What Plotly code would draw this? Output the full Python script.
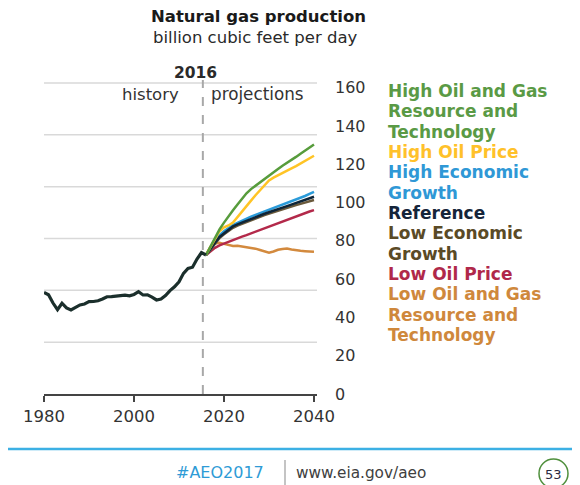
import plotly.graph_objects as go

# ---------------- data ----------------
hist_years = list(range(1980, 2017))
hist_values = [53.0, 51.8, 47.5, 44.0, 47.4, 45.0, 43.9, 45.2, 46.5, 47.0,
               48.2, 48.3, 48.7, 49.6, 50.8, 50.9, 51.3, 51.4, 51.6, 51.3,
               52.0, 53.4, 51.7, 51.8, 50.6, 49.1, 49.6, 51.4, 54.0, 56.0,
               58.6, 63.0, 65.6, 66.2, 70.5, 73.8, 72.6]

proj_years = list(range(2016, 2041))
high_resource = [72.6, 77.0, 81.5, 86.0, 89.5, 93.0, 96.0, 99.0, 102.0, 104.8,
                 107.0, 108.8, 110.5, 112.5, 114.3, 115.8, 117.5, 119.2, 120.6, 122.2,
                 123.8, 125.5, 127.2, 128.8, 130.3]
high_oil_price = [72.6, 76.5, 81.0, 85.0, 87.0, 88.0, 89.5, 92.5, 95.5, 98.3,
                  101.0, 103.8, 106.5, 109.0, 111.5, 113.0, 114.3, 115.5, 116.5, 117.8,
                  119.0, 120.3, 121.6, 123.0, 124.4]
high_econ = [72.6, 76.0, 79.5, 82.8, 85.0, 86.8, 88.2, 89.4, 90.6, 91.6,
             92.6, 93.5, 94.4, 95.2, 96.1, 96.9, 97.8, 98.7, 99.5, 100.4,
             101.4, 102.4, 103.4, 104.5, 105.6]
reference = [72.6, 75.5, 79.0, 82.0, 84.0, 86.0, 87.5, 88.6, 89.6, 90.5,
             91.4, 92.3, 93.2, 94.1, 95.0, 95.8, 96.5, 97.3, 98.1, 98.9,
             99.7, 100.5, 101.3, 102.2, 103.0]
low_econ = [72.6, 75.2, 78.5, 81.4, 83.4, 85.3, 86.8, 87.9, 88.9, 89.8,
            90.7, 91.6, 92.5, 93.4, 94.2, 95.0, 95.7, 96.4, 97.2, 97.9,
            98.6, 99.3, 100.0, 100.7, 101.3]
low_oil_price = [72.6, 74.5, 76.3, 77.6, 78.6, 79.6, 80.5, 81.3, 82.2, 83.0,
                 83.9, 84.8, 85.6, 86.5, 87.3, 88.1, 89.2, 89.9, 90.8, 91.8,
                 93.0, 93.8, 94.6, 95.3, 96.0]
low_resource = [72.6, 76.8, 78.6, 79.0, 78.4, 77.8, 77.3, 77.4, 77.0, 76.9,
                76.5, 75.9, 75.2, 74.5, 73.8, 74.4, 75.3, 75.7, 76.0, 75.5,
                75.0, 74.8, 74.6, 74.5, 74.3]

scenario_names = ["High Oil and Gas Resource and Technology", "High Oil Price",
                  "High Economic Growth", "Reference", "Low Economic Growth",
                  "Low Oil Price", "Low Oil and Gas Resource and Technology"]
legend_lines = [["High Oil and Gas", "Resource and", "Technology"],
                ["High Oil Price"],
                ["High Economic", "Growth"],
                ["Reference"],
                ["Low Economic", "Growth"],
                ["Low Oil Price"],
                ["Low Oil and Gas", "Resource and", "Technology"]]
scenario_values = [high_resource, high_oil_price, high_econ, reference,
                   low_econ, low_oil_price, low_resource]

x_ticks = [1980, 2000, 2020, 2040]
y_ticks = [0, 20, 40, 60, 80, 100, 120, 140, 160]
divider_year = 2015.3

# ---------------- style ----------------
OFF = 8                      # page body margin of the html page
W, H = 580 - OFF, 485 - OFF
FONT = "DejaVu Sans"
line_colors = ["#579c3c", "#ffc425", "#2b9bd9", "#0e2538", "#6a5a3c", "#b3294a", "#d38a3e"]
text_colors = ["#5a9a45", "#ffc12a", "#2f98d6", "#15253a", "#5a4a26", "#b0284a", "#cf883c"]
draw_order = [6, 5, 4, 2, 3, 1, 0]
n_grid = 6


def px(x):
    return (x - OFF) / W


def py(y):
    return (H - (y - OFF)) / H


fig = go.Figure()

for i in draw_order:
    fig.add_trace(go.Scatter(x=proj_years, y=scenario_values[i], mode="lines",
                             name=scenario_names[i],
                             line=dict(color=line_colors[i], width=2.5),
                             showlegend=False))

fig.add_trace(go.Scatter(x=hist_years, y=hist_values, mode="lines", name="history",
                         line=dict(color="#1b2f2c", width=3.2),
                         showlegend=False))

x_dom = [px(44), px(317)]
y_dom = [py(394), py(83)]

fig.update_layout(
    template="none",
    width=W, height=H,
    margin=dict(l=0, r=0, t=0, b=0, autoexpand=False),
    paper_bgcolor="white", plot_bgcolor="white",
    font=dict(family=FONT, color="#222"),
    showlegend=False,
    xaxis=dict(domain=x_dom, range=[1980, 1980 + (317 - 44) / 4.5],
               tickvals=x_ticks, ticks="outside", ticklen=6, tickwidth=2,
               tickcolor="#444", showline=True, linecolor="#444", linewidth=2,
               showgrid=False, zeroline=False, automargin=False,
               tickfont=dict(family=FONT, size=16.5, color="#333")),
    yaxis=dict(domain=y_dom, side="right",
               range=[0, (394 - 83) / 1.915], tickvals=y_ticks,
               showgrid=False, zeroline=False, showline=False, ticks="",
               ticklabelstandoff=17, automargin=False,
               tickfont=dict(family=FONT, size=16, color="#333")),
)

# light horizontal guide lines
for k in range(1, n_grid + 1):
    fig.add_shape(type="line", xref="x domain", yref="y domain", x0=0, x1=1,
                  y0=k / n_grid, y1=k / n_grid,
                  line=dict(color="#d9d9d9", width=1.5), layer="below")

# divider between history and projections
fig.add_shape(type="line", xref="x", yref="paper", x0=divider_year, x1=divider_year,
              y0=py(394), y1=py(80), line=dict(color="#a8a8a8", width=2, dash="dash"),
              layer="below")

annotations = [
    dict(text="<b>Natural gas production</b>", x=px(258), y=py(17), size=16.5, color="#1a1a1a"),
    dict(text="billion cubic feet per day", x=px(256), y=py(38), size=16.5, color="#2a2a2a"),
    dict(text="<b>2016</b>", x=px(195), y=py(73), size=15.5, color="#2a2a2a"),
    dict(text="history", x=px(150), y=py(94), size=16.5, color="#333"),
    dict(text="projections", x=px(257), y=py(94), size=16.8, color="#333"),
]
for a in annotations:
    fig.add_annotation(text=a["text"], x=a["x"], y=a["y"], xref="paper", yref="paper",
                       xanchor="center", yanchor="middle", showarrow=False,
                       font=dict(family=FONT, size=a["size"], color=a["color"]))

# legend text block
line_y = 91
for i, lines in enumerate(legend_lines):
    for ln in lines:
        fig.add_annotation(text="<b>" + ln + "</b>", x=px(386), y=py(line_y),
                           xref="paper", yref="paper", xanchor="left", yanchor="middle",
                           showarrow=False,
                           font=dict(family=FONT, size=17, color=text_colors[i]))
        line_y += 20.33

# footer
fig.add_shape(type="line", xref="paper", yref="paper", x0=px(8), x1=1,
              y0=py(449), y1=py(449), line=dict(color="#3cb0e4", width=2.5))
fig.add_shape(type="line", xref="paper", yref="paper", x0=px(285), x1=px(285),
              y0=py(460), y1=py(485), line=dict(color="#b0b0b0", width=1.5))
fig.add_shape(type="circle", xref="paper", yref="paper", x0=px(539), x1=px(568),
              y0=py(488), y1=py(459), line=dict(color="#4f8f3c", width=1.5))
fig.add_annotation(text="#AEO2017", x=px(220), y=py(472), xref="paper", yref="paper",
                   xanchor="center", yanchor="middle", showarrow=False,
                   font=dict(family=FONT, size=16, color="#2e9bd6"))
fig.add_annotation(text="www.eia.gov/aeo", x=px(294), y=py(473), xref="paper", yref="paper",
                   xanchor="left", yanchor="middle", showarrow=False,
                   font=dict(family=FONT, size=15.3, color="#404040"))
fig.add_annotation(text="53", x=px(553), y=py(474), xref="paper", yref="paper",
                   xanchor="center", yanchor="middle", showarrow=False,
                   font=dict(family=FONT, size=13, color="#2a2a40"))

fig.write_html("out.html")
